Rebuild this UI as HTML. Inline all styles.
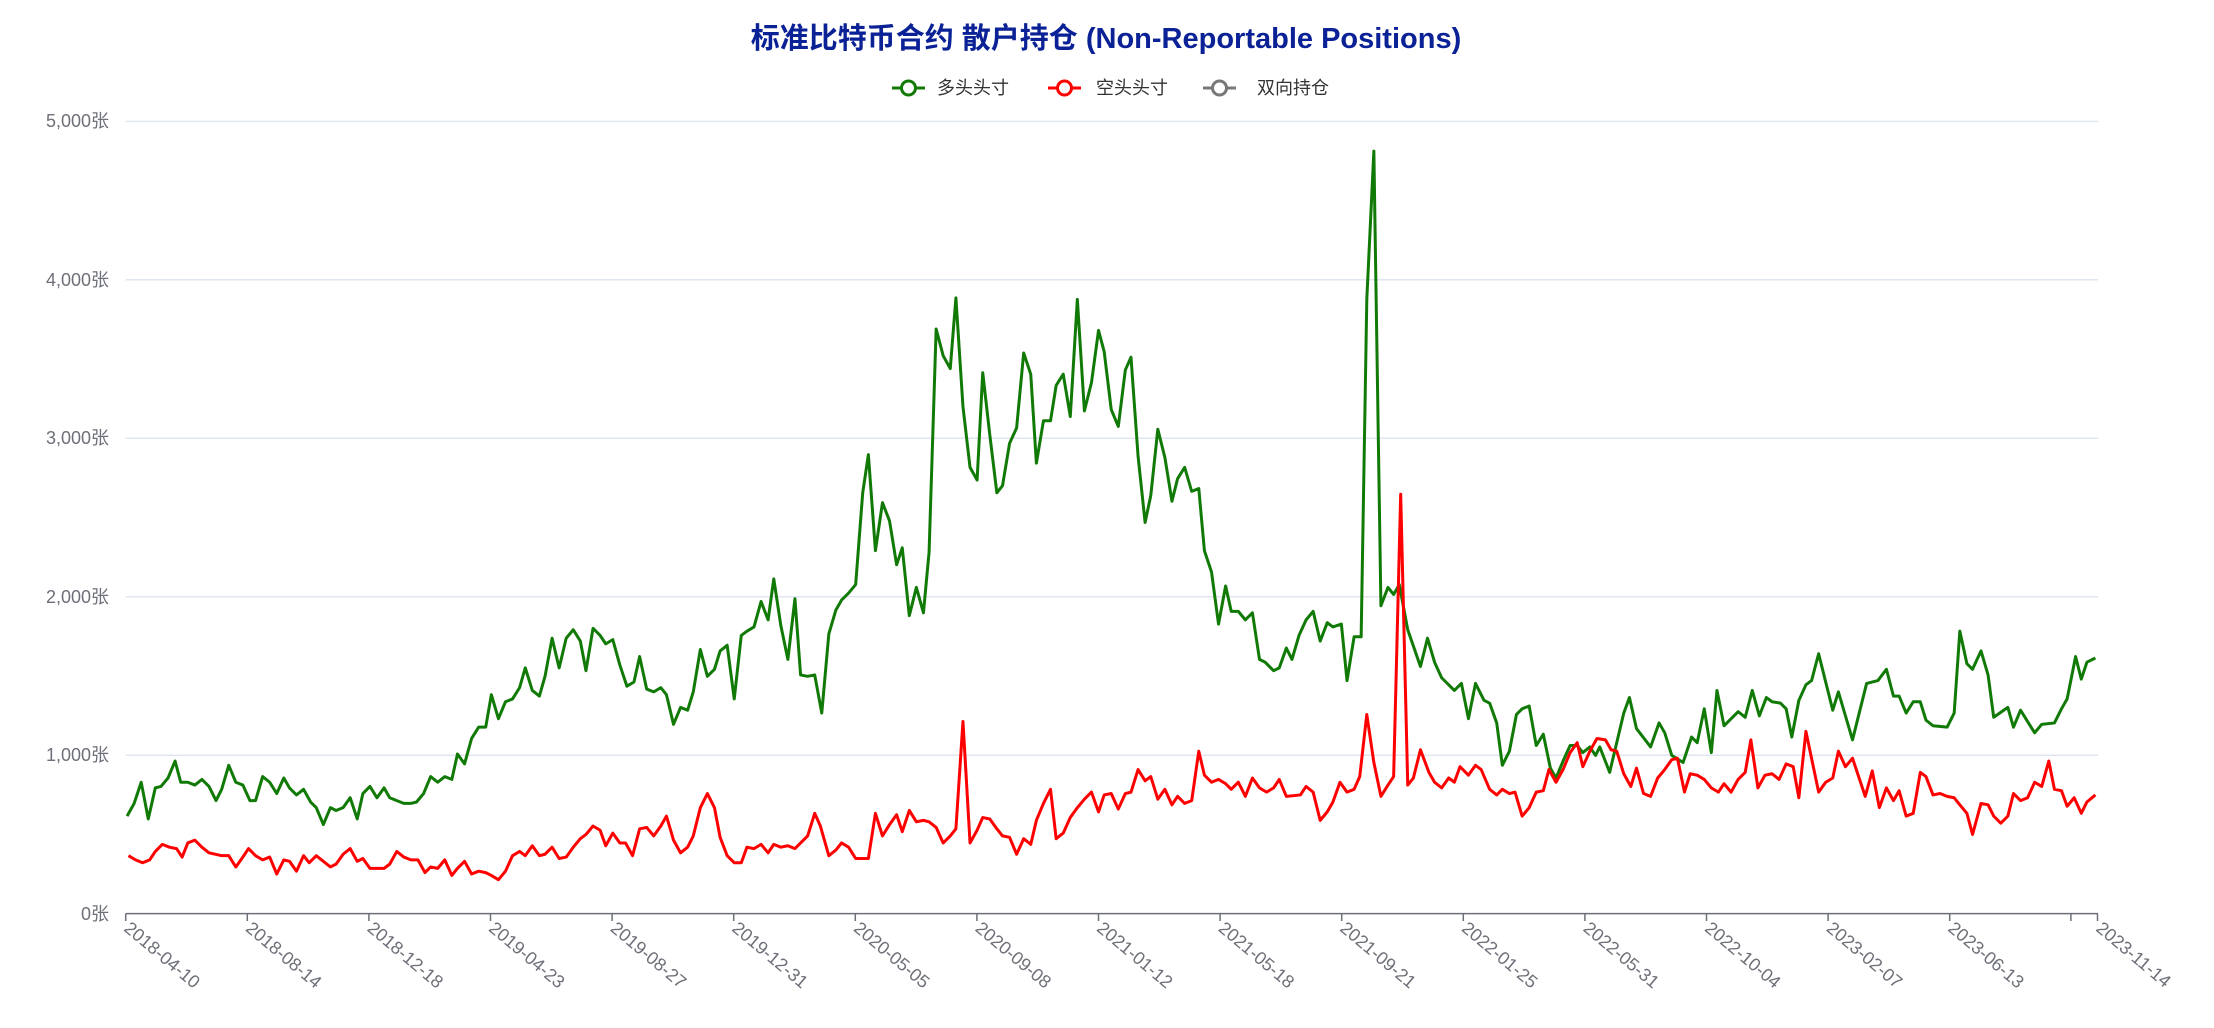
<!DOCTYPE html>
<html><head><meta charset="utf-8"><style>
html,body{margin:0;padding:0;background:#fff;}
svg{display:block;}
text{font-family:"Liberation Sans","Noto Sans CJK SC",sans-serif;}
</style></head><body>
<svg width="2214" height="1028" viewBox="0 0 2214 1028" xmlns="http://www.w3.org/2000/svg">
<text x="1106" y="48" text-anchor="middle" font-size="29" font-weight="bold" fill="#0b2196">标准比特币合约 散户持仓 (Non-Reportable Positions)</text>
<g font-size="18" fill="#333">
<line x1="892" y1="88" x2="925" y2="88" stroke="#117a06" stroke-width="3"/><circle cx="908.5" cy="88" r="7" fill="#fff" stroke="#117a06" stroke-width="3"/><text x="937" y="94">多头头寸</text>
<line x1="1048" y1="88" x2="1081" y2="88" stroke="#ff0000" stroke-width="3"/><circle cx="1064.5" cy="88" r="7" fill="#fff" stroke="#ff0000" stroke-width="3"/><text x="1096" y="94">空头头寸</text>
<line x1="1203" y1="88" x2="1236" y2="88" stroke="#777" stroke-width="3"/><circle cx="1219.5" cy="88" r="7" fill="#fff" stroke="#777" stroke-width="3"/><text x="1257" y="94">双向持仓</text>
</g>
<g stroke="#e0e6f1" stroke-width="1.5">
<line x1="125.7" x2="2098" y1="755.2" y2="755.2"/><line x1="125.7" x2="2098" y1="596.7" y2="596.7"/><line x1="125.7" x2="2098" y1="438.3" y2="438.3"/><line x1="125.7" x2="2098" y1="279.8" y2="279.8"/><line x1="125.7" x2="2098" y1="121.4" y2="121.4"/>
</g>
<g font-size="18" fill="#6e7079" text-anchor="end">
<text x="109" y="920">0张</text><text x="109" y="761">1,000张</text><text x="109" y="603">2,000张</text><text x="109" y="444">3,000张</text><text x="109" y="286">4,000张</text><text x="109" y="127">5,000张</text>
</g>
<line x1="125.7" x2="2098" y1="913.6" y2="913.6" stroke="#6e7079" stroke-width="1.5"/>
<g stroke="#6e7079" stroke-width="1.5">
<line x1="125.7" x2="125.7" y1="913.6" y2="921"/><line x1="247.3" x2="247.3" y1="913.6" y2="921"/><line x1="368.9" x2="368.9" y1="913.6" y2="921"/><line x1="490.5" x2="490.5" y1="913.6" y2="921"/><line x1="612.1" x2="612.1" y1="913.6" y2="921"/><line x1="733.7" x2="733.7" y1="913.6" y2="921"/><line x1="855.3" x2="855.3" y1="913.6" y2="921"/><line x1="976.9" x2="976.9" y1="913.6" y2="921"/><line x1="1098.5" x2="1098.5" y1="913.6" y2="921"/><line x1="1220.1" x2="1220.1" y1="913.6" y2="921"/><line x1="1341.7" x2="1341.7" y1="913.6" y2="921"/><line x1="1463.3" x2="1463.3" y1="913.6" y2="921"/><line x1="1584.9" x2="1584.9" y1="913.6" y2="921"/><line x1="1706.5" x2="1706.5" y1="913.6" y2="921"/><line x1="1828.1" x2="1828.1" y1="913.6" y2="921"/><line x1="1949.7" x2="1949.7" y1="913.6" y2="921"/><line x1="2070.9" x2="2070.9" y1="913.6" y2="921"/><line x1="2097.5" x2="2097.5" y1="913.6" y2="921"/>
</g>
<g font-size="18" fill="#6e7079">
<text transform="translate(123,930) rotate(40)">2018-04-10</text>
<text transform="translate(244.6,930) rotate(40)">2018-08-14</text>
<text transform="translate(366.2,930) rotate(40)">2018-12-18</text>
<text transform="translate(487.8,930) rotate(40)">2019-04-23</text>
<text transform="translate(609.4,930) rotate(40)">2019-08-27</text>
<text transform="translate(731,930) rotate(40)">2019-12-31</text>
<text transform="translate(852.6,930) rotate(40)">2020-05-05</text>
<text transform="translate(974.2,930) rotate(40)">2020-09-08</text>
<text transform="translate(1095.8,930) rotate(40)">2021-01-12</text>
<text transform="translate(1217.4,930) rotate(40)">2021-05-18</text>
<text transform="translate(1339,930) rotate(40)">2021-09-21</text>
<text transform="translate(1460.6,930) rotate(40)">2022-01-25</text>
<text transform="translate(1582.2,930) rotate(40)">2022-05-31</text>
<text transform="translate(1703.8,930) rotate(40)">2022-10-04</text>
<text transform="translate(1825.4,930) rotate(40)">2023-02-07</text>
<text transform="translate(1947,930) rotate(40)">2023-06-13</text>
<text transform="translate(2095,930) rotate(40)">2023-11-14</text>
</g>
<g transform="scale(1.41198)" fill="none" stroke-linejoin="round">
<polyline vector-effect="non-scaling-stroke" stroke="#117a06" stroke-width="3" points="90,578 95,569 100,554 105,580 110,558 114,557 119,551 124,539 128,554 133,554 138,556 143,552 148,557 153,567 157,559 162,542 167,554 172,556 177,567 181,567 186,550 191,554 196,562 201,551 205,558 210,563 215,559 220,568 224,572 229,584 234,572 238,574 243,572 248,565 253,580 257,562 262,557 267,565 272,558 276,565 281,567 286,569 291,569 295,568 300,562 305,550 310,554 315,550 320,552 324,534 329,541 334,523 339,515 344,515 348,492 353,509 358,497 363,495 368,487 372,473 377,489 382,493 386,479 391,452 396,473 401,452 406,446 411,454 415,475 420,445 425,450 429,456 434,453 439,471 444,486 449,483 453,465 458,488 463,490 468,487 472,492 477,513 482,501 487,503 491,490 496,460 501,479 506,474 510,461 515,457 520,495 525,450 529,447 534,444 539,426 544,439 548,410 553,443 558,467 563,424 567,478 572,479 577,478 582,505 587,449 592,432 596,425 601,420 606,414 611,349 615,322 620,390 625,356 630,369 635,400 639,388 644,436 649,416 654,434 658,391 663,233 668,252 673,261 677,211 682,288 687,331 692,340 696,264 701,308 706,349 710,344 715,314 720,303 725,250 730,265 734,328 739,298 744,298 748,273 753,265 758,295 763,212 768,291 773,271 778,234 782,249 787,290 792,302 797,262 801,253 806,323 811,370 815,351 820,304 825,324 830,355 834,339 839,331 844,348 849,346 853,390 858,405 863,442 868,415 872,433 877,433 882,439 887,434 892,467 896,469 902,475 906,473 911,459 915,467 920,450 925,439 930,433 935,454 940,441 944,444 950,442 954,482 959,451 964,451 968,212 973,107 978,429 983,416 987,421 991,414 997,446 1006,472 1011,452 1016,469 1021,480 1030,489 1035,484 1040,509 1045,484 1051,496 1055,498 1060,512 1064,542 1069,532 1074,506 1078,502 1083,500 1088,528 1093,520 1098,544 1102,551 1107,539 1112,528 1117,528 1121,533 1126,529 1130,535 1133,529 1140,547 1150,505 1154,494 1159,516 1169,529 1175,512 1179,519 1184,535 1192,540 1198,522 1202,526 1207,502 1212,533 1216,489 1221,514 1231,504 1236,508 1241,489 1246,507 1251,494 1255,497 1261,498 1265,502 1269,522 1274,496 1279,485 1283,482 1288,463 1298,503 1302,490 1312,524 1322,484 1330,482 1336,474 1341,493 1345,493 1350,505 1355,497 1360,497 1364,510 1369,514 1379,515 1384,505 1388,447 1393,470 1397,474 1403,461 1408,478 1412,508 1422,501 1426,515 1431,503 1436,511 1441,519 1446,513 1455,512 1460,502 1464,495 1470,465 1474,481 1478,469 1484,466"/>
<polyline vector-effect="non-scaling-stroke" stroke="#ff0000" stroke-width="3" points="91,606 96,609 101,611 106,609 110,603 115,598 120,600 125,601 129,607 133,597 138,595 143,600 148,604 157,606 162,606 167,614 172,607 176,601 181,606 186,609 191,607 196,619 201,609 205,610 210,617 215,606 219,611 224,606 229,610 234,614 238,612 243,605 248,601 253,610 257,608 262,615 272,615 276,612 281,603 286,607 291,609 296,609 301,618 305,614 310,615 315,609 320,620 324,615 329,610 334,619 339,617 344,618 348,620 353,623 358,617 363,606 368,603 372,606 377,599 382,606 386,605 391,600 396,608 401,607 406,600 411,594 415,591 420,585 425,588 429,599 434,590 439,597 443,597 448,606 453,587 458,586 463,592 468,585 472,578 477,595 482,604 487,600 491,592 496,572 501,562 506,572 510,593 515,606 520,611 525,611 529,600 534,601 539,598 544,604 548,598 553,600 558,599 563,601 567,597 572,592 577,576 581,585 587,606 592,602 596,597 601,600 606,608 615,608 620,576 625,592 630,584 635,577 639,589 644,574 649,582 654,581 658,582 663,586 668,597 673,592 677,587 682,511 687,597 692,588 696,579 701,580 706,587 710,592 715,593 720,605 725,594 730,598 734,581 739,569 744,559 748,594 753,590 758,579 763,572 768,566 773,561 778,575 782,563 787,562 792,573 797,562 801,561 806,545 811,553 815,550 820,566 825,559 830,570 834,564 839,569 844,567 849,532 853,549 858,554 863,552 868,555 872,559 877,554 882,564 887,551 892,558 897,561 902,558 906,552 911,564 921,563 925,557 930,561 935,581 940,575 944,568 949,554 954,561 959,559 963,550 968,506 973,540 978,564 983,556 987,550 992,350 997,556 1001,551 1006,531 1012,547 1016,554 1021,558 1026,551 1030,554 1034,543 1040,549 1045,542 1049,545 1055,559 1060,563 1064,559 1069,562 1073,561 1078,578 1083,572 1088,561 1093,560 1097,545 1102,554 1107,545 1112,533 1117,526 1121,543 1126,532 1131,523 1137,524 1141,531 1145,532 1150,548 1155,557 1159,544 1164,562 1169,564 1174,551 1179,545 1184,538 1188,537 1193,561 1197,548 1202,549 1207,552 1212,558 1217,561 1221,555 1226,561 1231,552 1236,547 1240,524 1245,558 1250,549 1255,548 1260,552 1265,541 1270,543 1274,565 1279,518 1288,561 1293,554 1298,551 1302,532 1307,543 1312,537 1321,564 1326,546 1331,572 1336,558 1341,567 1345,560 1350,578 1355,576 1360,547 1364,550 1369,563 1374,562 1379,564 1384,565 1388,570 1393,576 1397,591 1403,569 1408,570 1412,578 1417,583 1422,578 1426,562 1431,567 1436,565 1441,554 1446,557 1451,539 1455,559 1460,560 1464,571 1469,565 1474,576 1478,568 1484,563"/>
</g>
</svg>
</body></html>
